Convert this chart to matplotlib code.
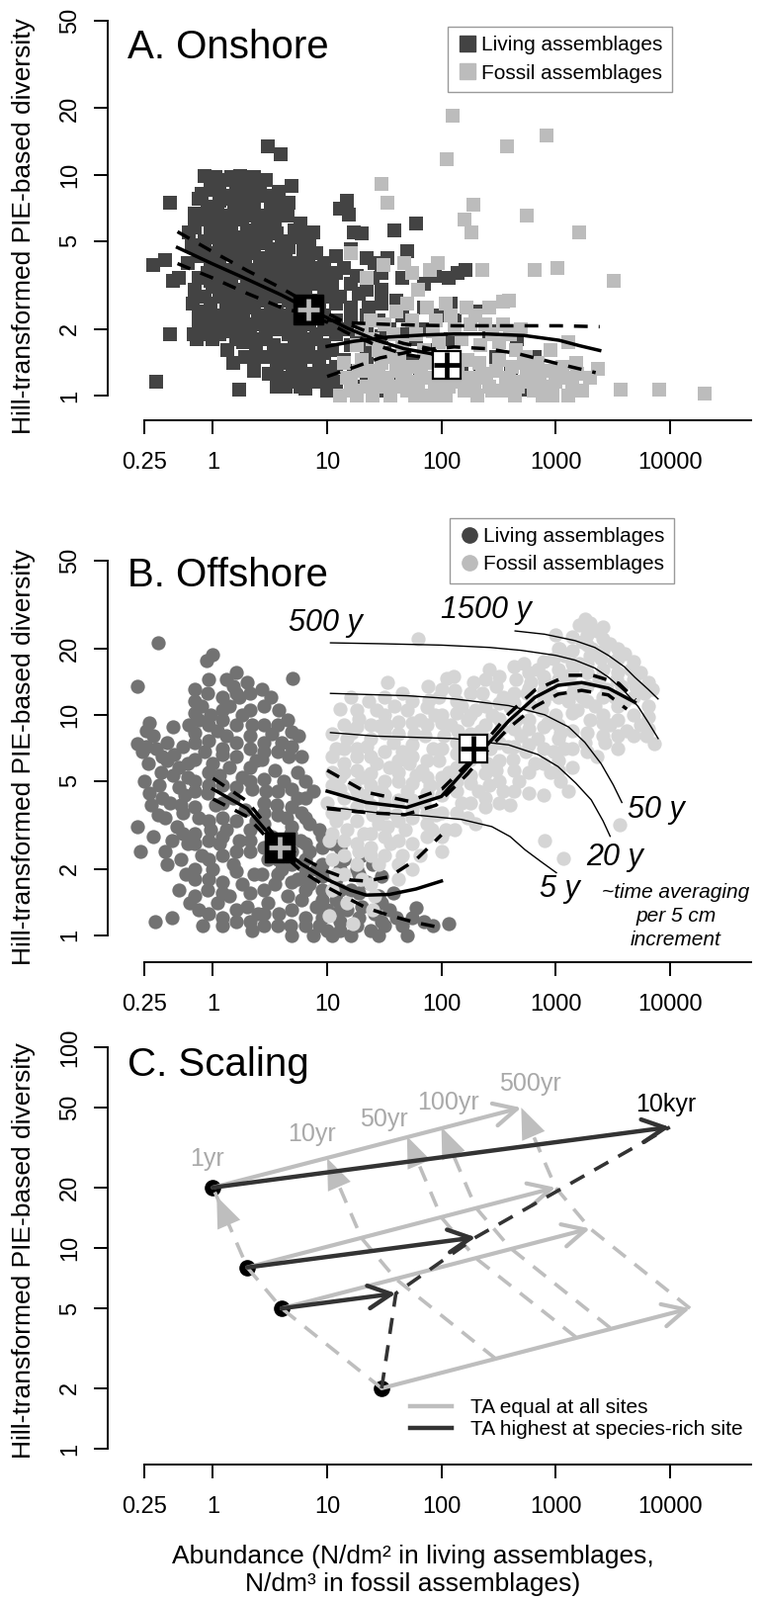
import matplotlib
matplotlib.use('Agg')
import matplotlib.pyplot as plt
from matplotlib.lines import Line2D
from matplotlib.patches import FancyArrowPatch

plt.rcParams['font.family'] = ['Liberation Sans', 'DejaVu Sans']

# ---------------- data ----------------
ticks_x = [0.25, 1, 10, 100, 1000, 10000]
ticks_x_lab = ['0.25', '1', '10', '100', '1000', '10000']
ticks_y_ab = [1, 2, 5, 10, 20, 50]
ticks_y_c = [1, 2, 5, 10, 20, 50, 100]

# panel A, onshore: (abundance, diversity)
a_living = [
    (0.30, 3.9), (0.32, 1.15), (0.38, 4.1), (0.42, 7.5), (0.42, 1.9), (0.45, 3.3), (0.50, 3.4),
    (0.62, 5.5), (0.65, 4.8), (0.69, 6.7), (0.70, 5.8), (0.60, 4.0), (0.68, 1.9), (0.72, 1.8),
    (0.75, 2.2), (0.70, 3.0), (0.66, 2.6),
    (0.85, 9.9), (0.80, 8.2), (0.90, 7.2), (0.95, 6.0), (0.85, 5.0), (0.80, 4.3), (0.90, 3.6),
    (1.00, 3.1), (0.85, 2.8), (0.90, 2.4), (0.95, 2.0), (1.00, 1.8), (0.82, 1.9), (1.05, 9.8),
    (1.00, 8.5), (1.10, 7.0), (1.10, 5.2), (1.05, 4.4), (1.10, 3.8),
    (1.2, 9.5), (1.3, 8.0), (1.4, 6.5), (1.25, 5.8), (1.5, 5.0), (1.3, 4.4), (1.4, 3.7), (1.2, 3.2),
    (1.5, 2.9), (1.3, 2.5), (1.45, 2.1), (1.6, 1.8), (1.35, 1.6), (1.5, 1.4), (1.2, 2.0), (1.6, 8.8),
    (1.55, 7.2), (1.6, 4.0), (1.6, 2.6), (1.7, 1.06),
    (1.75, 9.9), (1.9, 9.4), (2.1, 8.6), (2.3, 7.4), (1.8, 6.3), (2.0, 5.6), (2.2, 4.8), (1.9, 4.1),
    (2.4, 3.7), (2.0, 3.3), (2.2, 2.9), (1.8, 2.6), (2.5, 2.3), (2.1, 1.9), (2.4, 1.6), (1.9, 1.5),
    (2.3, 1.3), (2.6, 9.2), (2.5, 6.0), (2.6, 4.2), (2.5, 2.7),
    (3.0, 13.5), (3.9, 12.4), (2.9, 8.0), (3.2, 7.0), (3.5, 6.2), (2.8, 5.3), (3.3, 4.6), (3.7, 4.0),
    (3.0, 3.5), (3.5, 3.0), (3.2, 2.6), (3.8, 2.2), (2.9, 2.0), (3.4, 1.7), (3.6, 1.4), (3.1, 1.25),
    (3.8, 8.4), (3.6, 1.1), (4.0, 5.0), (4.0, 2.8),
    (4.9, 8.9), (4.5, 6.5), (5.2, 5.6), (4.3, 4.4), (5.5, 4.0), (4.8, 3.5), (5.8, 3.2), (4.5, 3.0),
    (5.0, 2.5), (5.6, 2.2), (4.4, 2.0), (5.2, 1.8), (4.6, 1.6), (5.8, 1.5), (5.0, 1.3), (5.5, 1.15),
    (4.3, 1.1), (6.0, 5.2), (6.2, 4.6), (6.0, 2.7),
    (7.0, 5.0), (8.0, 4.4), (6.8, 4.0), (9.0, 3.6), (7.5, 3.2), (6.5, 2.9), (8.5, 2.6), (9.5, 2.3),
    (7.0, 2.1), (8.0, 1.9), (9.5, 1.7), (6.8, 1.6), (8.5, 1.4), (7.3, 1.25), (9.0, 1.15), (6.5, 1.08),
    (10, 1.05), (10, 1.3), (10, 2.0), (10, 3.0),
    (13, 7.0), (15, 7.6), (15.5, 6.6), (17, 5.5), (20, 5.4), (12, 4.3), (14, 3.8), (18, 3.5),
    (11, 3.2), (13, 2.8), (16, 2.5), (19, 2.9), (12, 2.2), (15, 2.0), (18, 1.8), (11, 1.6),
    (14, 1.45), (17, 1.3), (12, 1.15), (20, 1.1), (16, 1.05),
    (22, 4.2), (26, 4.0), (34, 4.2), (39, 5.6), (50, 4.5), (25, 3.4), (30, 3.0), (40, 2.7),
    (23, 2.5), (28, 2.2), (35, 2.0), (45, 1.9), (24, 1.75), (32, 1.55), (42, 1.45), (27, 1.3),
    (38, 1.2), (48, 1.1), (30, 1.05),
    (60, 6.0), (88, 3.5), (117, 3.4), (140, 3.6), (161, 3.7), (70, 2.5), (95, 2.3), (130, 2.2),
    (60, 1.8), (80, 1.6), (110, 1.5), (150, 1.35), (65, 1.2), (100, 1.1), (55, 1.4),
    (200, 2.4), (260, 1.95), (460, 1.8), (405, 1.34), (585, 1.06), (300, 1.5), (220, 1.25), (650, 1.5),
    # denser core
    (0.75, 7.8), (0.75, 6.3), (0.75, 4.6), (0.75, 3.4), (0.75, 2.4),
    (0.95, 8.8), (0.95, 6.6), (0.95, 5.4), (0.95, 4.0), (0.95, 3.3), (0.95, 2.6), (0.95, 2.2),
    (1.15, 9.0), (1.15, 7.6), (1.15, 6.1), (1.15, 4.8), (1.15, 4.1), (1.15, 3.4), (1.15, 2.8),
    (1.15, 2.3), (1.15, 1.9),
    (1.45, 9.8), (1.45, 7.8), (1.45, 6.0), (1.45, 5.4), (1.45, 4.6), (1.45, 3.4), (1.45, 3.1),
    (1.45, 2.3), (1.45, 1.95),
    (1.85, 8.8), (1.85, 7.6), (1.85, 6.8), (1.85, 5.2), (1.85, 4.5), (1.85, 3.6), (1.85, 3.0),
    (1.85, 2.3), (1.85, 2.0), (1.85, 1.75),
    (2.3, 9.8), (2.3, 8.0), (2.3, 6.5), (2.3, 5.3), (2.3, 4.4), (2.3, 3.5), (2.3, 3.1), (2.3, 2.5),
    (2.3, 2.1), (2.3, 1.8), (2.3, 1.45),
    (2.9, 9.5), (2.9, 6.5), (2.9, 5.8), (2.9, 4.9), (2.9, 4.2), (2.9, 3.8), (2.9, 3.2), (2.9, 2.8),
    (2.9, 2.3), (2.9, 1.8), (2.9, 1.5),
    (3.6, 7.6), (3.6, 6.7), (3.6, 5.4), (3.6, 4.4), (3.6, 3.5), (3.6, 3.2), (3.6, 2.4), (3.6, 2.0),
    (3.6, 1.6), (3.6, 1.25),
    (4.6, 7.5), (4.6, 5.0), (4.6, 4.7), (4.6, 3.9), (4.6, 3.3), (4.6, 2.7), (4.6, 2.3), (4.6, 1.9),
    (4.6, 1.4), (4.6, 1.2),
    (5.8, 6.0), (5.8, 4.0), (5.8, 3.6), (5.8, 3.0), (5.8, 2.5), (5.8, 1.95), (5.8, 1.7), (5.8, 1.3),
    (5.8, 1.1),
    (7.5, 5.5), (7.5, 3.8), (7.5, 3.4), (7.5, 2.7), (7.5, 2.3), (7.5, 1.8), (7.5, 1.5), (7.5, 1.15),
    (9.5, 4.0), (9.5, 3.2), (9.5, 2.8), (9.5, 2.2), (9.5, 1.55), (9.5, 1.25),
    (12, 3.6), (12, 2.6), (12, 1.9), (12, 1.35), (12, 1.05),
    (16, 4.6), (16, 3.2), (16, 2.2), (16, 1.7),
    (22, 3.0), (22, 2.3), (22, 2.0), (22, 1.6), (22, 1.4), (22, 1.15),
    (30, 3.6), (30, 2.6), (30, 1.85), (30, 1.4),
    (45, 3.4), (45, 2.3), (45, 1.6), (45, 1.3),
    (70, 3.2), (70, 2.0), (70, 1.4), (120, 2.6), (120, 1.8), (120, 1.25),
]
a_fossil = [
    (126, 18.5), (112, 11.7), (375, 13.5), (840, 15.0), (30, 9.1), (34, 7.5), (192, 7.3), (158, 6.3),
    (184, 5.5), (560, 6.5), (1600, 5.5), (226, 3.7), (650, 3.7), (1030, 3.8), (3200, 3.3), (16, 4.4),
    (22, 3.4), (31, 3.9), (47, 4.0), (55, 3.6), (93, 4.0), (80, 3.7), (345, 2.65), (390, 2.7),
    (1280, 1.74), (2340, 1.32), (3700, 1.06), (8000, 1.06), (20300, 1.02),
    (20, 2.0), (25, 1.8), (32, 2.1), (40, 2.4), (50, 2.6), (62, 3.0), (75, 2.5), (90, 2.2),
    (110, 2.6), (130, 2.0), (150, 1.8), (180, 2.1), (220, 1.7), (280, 1.9), (350, 2.1), (450, 1.6),
    (550, 1.5), (700, 1.4), (900, 1.6), (1200, 1.2), (1500, 1.4), (60, 1.9), (45, 1.7), (35, 1.5),
    (28, 1.6), (18, 1.7), (70, 1.6), (95, 1.75), (200, 2.3), (260, 2.5),
    (13, 1.0), (15, 1.2), (17, 1.05), (19, 1.3), (22, 1.1), (25, 1.0), (28, 1.25), (32, 1.1),
    (36, 1.0), (40, 1.3), (45, 1.15), (50, 1.05), (56, 1.35), (62, 1.1), (70, 1.0), (78, 1.2),
    (88, 1.1), (98, 1.3), (110, 1.0), (125, 1.15), (140, 1.3), (160, 1.05), (180, 1.2), (205, 1.0),
    (230, 1.25), (260, 1.1), (300, 1.3), (340, 1.05), (390, 1.2), (440, 1.0), (500, 1.15), (560, 1.3),
    (640, 1.05), (720, 1.2), (820, 1.1), (930, 1.0), (1050, 1.25), (1400, 1.1), (1700, 1.05), (2000, 1.2),
    (14, 1.4), (16, 1.15), (18, 1.0), (20, 1.45), (23, 1.3), (26, 1.15), (30, 1.4), (34, 1.2),
    (38, 1.1), (43, 1.45), (48, 1.25), (53, 1.15), (59, 1.0), (66, 1.25), (74, 1.4), (83, 1.0),
    (93, 1.2), (104, 1.45), (117, 1.1), (132, 1.4), (150, 1.2), (170, 1.45), (195, 1.1), (215, 1.4),
    (245, 1.2), (280, 1.05), (320, 1.45), (365, 1.15), (415, 1.35), (470, 1.1), (530, 1.4), (600, 1.2),
    (680, 1.35), (770, 1.0), (870, 1.3), (990, 1.15), (1150, 1.35), (1300, 1.0), (1550, 1.25),
    (24, 2.2), (38, 1.9), (55, 2.2), (85, 1.95), (120, 2.3), (165, 2.5), (240, 2.1), (320, 1.75),
    (400, 1.9), (500, 2.0),
]
a_liv_fit_x = [0.49, 0.98, 2.0, 4.0, 6.9, 10, 15, 27, 47, 80]
a_liv_fit_y = [4.68, 3.96, 3.36, 2.85, 2.46, 2.25, 2.02, 1.78, 1.63, 1.55]
a_liv_hi_y = [5.52, 4.5, 3.68, 3.06, 2.6, 2.36, 2.12, 1.87, 1.72, 1.63]
a_liv_lo_y = [3.96, 3.42, 2.9, 2.5, 2.32, 2.15, 1.92, 1.69, 1.54, 1.47]
a_fos_fit_x = [10, 17, 34, 70, 130, 250, 530, 1070, 1630, 2430]
a_fos_fit_y = [1.67, 1.76, 1.84, 1.88, 1.9, 1.9, 1.87, 1.78, 1.68, 1.6]
a_fos_hi_y = [2.2, 2.13, 2.1, 2.08, 2.07, 2.07, 2.07, 2.07, 2.06, 2.05]
a_fos_lo_x = [10, 17, 29, 60, 130, 250, 460, 1070, 1630, 2240]
a_fos_lo_y = [1.22, 1.34, 1.48, 1.6, 1.66, 1.63, 1.55, 1.39, 1.32, 1.27]
a_means = [(6.9, 2.46), (111, 1.37)]

# panel B, offshore
b_living = [
    (0.22, 13.5), (0.33, 21.3), (0.22, 7.4), (0.26, 8.5), (0.24, 6.8), (0.30, 8.0), (0.22, 3.1),
    (0.23, 2.4), (0.25, 5.0), (0.28, 4.4), (0.31, 1.15), (0.27, 6.0), (0.33, 3.5), (0.30, 2.8), (0.35, 5.5),
    (0.44, 1.2), (0.40, 6.2), (0.45, 5.3), (0.50, 4.7), (0.42, 4.0), (0.55, 3.6), (0.48, 3.1), (0.60, 2.6),
    (0.40, 2.1), (0.52, 2.2), (0.45, 8.8), (0.55, 7.2), (0.60, 6.0), (0.62, 9.0), (0.38, 3.4), (0.58, 1.9),
    (0.50, 1.6), (0.63, 1.4),
    (0.88, 17.7), (1.0, 18.7), (0.70, 13.0), (0.80, 11.0), (0.90, 12.5), (0.75, 9.5), (0.95, 10.0),
    (1.1, 8.5), (0.70, 7.5), (0.85, 6.8), (1.0, 6.0), (1.15, 5.3), (0.70, 5.0), (0.90, 4.4), (1.05, 3.9),
    (0.75, 3.4), (0.95, 3.0), (1.15, 2.6), (0.80, 2.3), (1.0, 2.0), (0.70, 1.8), (0.90, 1.6), (1.1, 1.4),
    (0.82, 1.1), (1.2, 1.2), (0.75, 1.3),
    (1.3, 14.5), (1.5, 13.5), (1.7, 12.0), (2.0, 14.0), (1.4, 11.0), (1.8, 10.0), (2.2, 9.0), (1.3, 8.0),
    (1.6, 7.5), (2.1, 7.0), (2.4, 6.2), (1.4, 5.8), (1.8, 5.2), (2.2, 4.6), (1.5, 4.2), (1.9, 3.7),
    (2.4, 3.3), (1.3, 3.0), (1.7, 2.7), (2.1, 2.4), (1.5, 2.1), (2.3, 1.9), (1.8, 1.7), (1.4, 1.5),
    (2.0, 1.35), (2.5, 1.25), (1.6, 1.15), (2.2, 1.05),
    (2.7, 13.0), (3.2, 12.0), (3.8, 10.5), (4.5, 9.5), (2.8, 9.0), (3.3, 8.2), (4.0, 7.5), (4.6, 6.5),
    (2.7, 6.3), (3.5, 5.6), (4.2, 5.0), (2.9, 4.5), (3.6, 3.9), (4.4, 3.4), (2.8, 3.2), (3.3, 2.8),
    (4.8, 2.9), (3.0, 2.2), (4.0, 2.0), (2.7, 1.9), (3.5, 1.7), (4.5, 1.5), (3.0, 1.4), (3.8, 1.25),
    (4.8, 1.1), (2.8, 1.1), (5.0, 14.6), (4.9, 8.4),
    (5.5, 5.5), (6.5, 5.0), (7.5, 4.5), (5.5, 4.2), (6.0, 3.6), (7.0, 3.2), (8.5, 3.0), (5.8, 2.7),
    (7.0, 2.4), (9.0, 2.5), (6.0, 2.1), (8.0, 2.0), (5.5, 1.8), (7.0, 1.7), (9.0, 1.6), (6.0, 1.45),
    (8.0, 1.35), (10, 1.3), (6.5, 1.2), (8.5, 1.1), (10, 1.05), (7.5, 1.0), (6.0, 6.5), (5.6, 8.0),
    (11, 2.6), (14, 2.2), (18, 2.0), (12, 1.8), (16, 1.6), (22, 1.75), (28, 1.5), (12, 1.45),
    (15, 1.3), (20, 1.35), (26, 1.25), (35, 1.3), (13, 1.15), (18, 1.1), (24, 1.05), (32, 1.1),
    (40, 1.2), (11, 1.0), (16, 1.0), (28, 1.0), (20, 2.3), (30, 1.85), (25, 2.1), (38, 1.55),
    (45, 1.1), (60, 1.33), (55, 1.2), (50, 1.0), (70, 1.15), (117, 1.13), (85, 1.1),
    # denser core
    (0.70, 11.5), (0.70, 10.2), (0.70, 8.3), (0.70, 6.3), (0.70, 4.5), (0.70, 3.8), (0.70, 2.9),
    (0.70, 2.6), (0.70, 2.0), (0.70, 1.5),
    (0.92, 14.5), (0.92, 9.0), (0.92, 7.6), (0.92, 5.5), (0.92, 4.8), (0.92, 3.3), (0.92, 2.7),
    (0.92, 2.2), (0.92, 1.8), (0.92, 1.25),
    (1.2, 12.0), (1.2, 10.5), (1.2, 9.5), (1.2, 7.0), (1.2, 6.6), (1.2, 4.8), (1.2, 4.0), (1.2, 3.4),
    (1.2, 2.8), (1.2, 2.3), (1.2, 1.75), (1.2, 1.55), (1.2, 1.1),
    (1.6, 15.5), (1.6, 12.5), (1.6, 9.0), (1.6, 6.5), (1.6, 4.7), (1.6, 3.3), (1.6, 2.4), (1.6, 1.95),
    (1.6, 1.3),
    (2.1, 12.5), (2.1, 10.5), (2.1, 8.0), (2.1, 5.8), (2.1, 5.0), (2.1, 3.0), (2.1, 2.7), (2.1, 1.55),
    (2.1, 1.15),
    (2.8, 11.0), (2.8, 7.5), (2.8, 6.8), (2.8, 5.1), (2.8, 4.0), (2.8, 3.6), (2.8, 2.5), (2.8, 1.6),
    (2.8, 1.25),
    (3.7, 9.0), (3.7, 6.8), (3.7, 4.5), (3.7, 3.5), (3.7, 2.5), (3.7, 2.2), (3.7, 1.9), (3.7, 1.1),
    (4.9, 7.2), (4.9, 4.6), (4.9, 3.8), (4.9, 3.1), (4.9, 2.4), (4.9, 2.1), (4.9, 1.75), (4.9, 1.3),
    (4.9, 1.0),
    (6.4, 4.2), (6.4, 3.4), (6.4, 2.6), (6.4, 2.2), (6.4, 1.9), (6.4, 1.6), (6.4, 1.1),
    (9, 2.8), (9, 2.1), (9, 1.85), (9, 1.45), (9, 1.2),
    (13, 2.5), (13, 2.0), (13, 1.6), (13, 1.3), (13, 1.05),
    (19, 1.55), (19, 1.2), (19, 1.9), (30, 1.4), (30, 1.15),
    (0.32, 7.0), (0.36, 6.5), (0.34, 4.8), (0.29, 3.9), (0.40, 7.5), (0.46, 6.6), (0.50, 5.8),
    (0.36, 4.2), (0.52, 3.9), (0.44, 2.7), (0.55, 2.9), (0.38, 2.4), (0.60, 5.2), (0.57, 4.3),
    (0.28, 9.2), (0.26, 7.2),
]
b_fossil = [
    (10.5, 1.23), (11, 5.5), (10, 4.0), (12, 3.3), (10.5, 2.7), (13, 10.6), (12, 7.0), (14, 6.0),
    (11, 8.2), (13, 4.6), (15, 3.0), (14, 2.3), (12, 1.9), (16.7, 1.13), (15, 1.4), (11, 1.6),
    (13, 5.2), (15, 7.8),
    (16.6, 8.3), (19, 9.6), (18, 6.5), (20, 5.2), (22, 4.3), (25, 3.5), (18, 3.8), (21, 2.9),
    (24, 2.5), (28, 2.1), (20, 1.8), (26, 1.5), (29, 8.95), (22, 7.2), (27, 6.0), (17, 4.8),
    (19, 2.4), (30, 4.5), (28, 3.2), (23, 11.5), (27, 10.5), (16, 12.0), (25, 1.3),
    (33.8, 14), (39, 11), (33, 9.0), (38, 7.5), (45, 6.8), (35, 5.8), (42, 5.0), (50, 4.5),
    (32, 4.0), (40, 3.5), (48, 3.0), (36, 2.6), (45, 2.3), (55, 2.0), (58, 8.2), (52, 6.0),
    (34, 3.1), (55, 3.7), (42, 1.8), (60, 5.3), (50, 10.5), (45, 12.5),
    (63, 22.1), (76, 13.4), (78, 11.6), (112, 14.7), (65, 9.5), (72, 8.0), (85, 7.0), (95, 6.2),
    (68, 5.6), (80, 4.8), (100, 4.3), (70, 4.0), (90, 3.5), (110, 3.0), (75, 2.8), (100, 2.4),
    (65, 2.3), (120, 9.0), (105, 8.0), (115, 5.5), (88, 10.0), (95, 12.0), (82, 3.0),
    (130, 12.9), (128, 15.0), (150, 11.0), (170, 9.5), (140, 8.5), (200, 10.5), (160, 6.2), (220, 8.5),
    (180, 5.3), (135, 5.0), (210, 4.5), (150, 4.0), (240, 3.8), (170, 3.4), (130, 3.0), (250, 6.0),
    (230, 12.5), (190, 14.0), (145, 7.0), (200, 3.2),
    (263, 16), (300, 13.5), (350, 12.0), (400, 10.8), (280, 10.0), (450, 9.5), (330, 8.6), (500, 8.0),
    (380, 7.2), (270, 7.0), (420, 6.3), (550, 6.8), (300, 5.6), (480, 5.0), (350, 4.5), (400, 3.9),
    (527, 17), (450, 14.5), (560, 12.5), (600, 11.0), (320, 4.0), (580, 4.4), (260, 4.8),
    (700, 16), (800, 14.0), (900, 12.5), (1000, 23), (1070, 20), (1200, 18.5), (1400, 17), (750, 10.5),
    (850, 9.2), (1000, 10.0), (1100, 8.3), (1300, 11.5), (700, 7.8), (950, 6.8), (1200, 7.0), (800, 2.7),
    (1160, 2.23), (900, 5.5), (1100, 5.0), (1300, 4.5), (650, 6.0), (1450, 13.5), (1250, 15.0),
    (950, 18.0), (600, 14.0),
    (1800, 27.2), (1600, 25.5), (2000, 26.0), (2300, 24.0), (2600, 22.0), (3000, 21.0), (1700, 21.5),
    (2100, 20.0), (2500, 18.0), (3200, 17.5), (1600, 17.0), (1900, 15.5), (2400, 14.5), (2800, 13.0),
    (3300, 12.0), (1700, 12.0), (2200, 11.0), (2600, 10.0), (3000, 9.0), (2000, 9.5), (1550, 10.5),
    (2700, 7.5), (3500, 8.0), (2300, 6.5), (3640, 3.17), (1800, 7.5), (3400, 14.5), (2000, 18.5),
    (4000, 19.0), (4500, 16.0), (5000, 13.5), (5500, 15.5), (6000, 12.5), (6500, 11.0), (7000, 13.0),
    (7250, 7.4), (4000, 11.5), (4800, 10.0), (5500, 9.0), (6200, 8.0), (4200, 8.5), (3800, 13.5),
    # denser core
    (11, 6.5), (11, 4.8), (11, 3.6), (11, 2.9), (11, 2.2),
    (14, 9.0), (14, 7.0), (14, 5.5), (14, 4.2), (14, 3.6), (14, 2.7), (14, 1.9),
    (18, 10.5), (18, 8.8), (18, 7.0), (18, 5.6), (18, 4.5), (18, 3.3), (18, 2.6), (18, 2.1),
    (24, 9.0), (24, 7.8), (24, 6.5), (24, 5.4), (24, 4.8), (24, 3.9), (24, 2.9), (24, 2.3), (24, 1.7),
    (32, 12.0), (32, 10.0), (32, 8.3), (32, 6.8), (32, 5.0), (32, 4.3), (32, 3.6), (32, 2.8), (32, 2.3),
    (42, 9.3), (42, 8.2), (42, 6.2), (42, 5.5), (42, 4.1), (42, 3.3), (42, 2.7), (42, 2.1),
    (56, 11.5), (56, 9.2), (56, 7.3), (56, 6.5), (56, 4.9), (56, 4.1), (56, 3.4), (56, 2.6),
    (75, 10.8), (75, 9.0), (75, 6.2), (75, 5.2), (75, 4.4), (75, 3.6), (75, 3.2),
    (100, 13.0), (100, 10.0), (100, 9.2), (100, 7.0), (100, 5.2), (100, 4.8), (100, 3.6), (100, 2.8),
    (135, 11.5), (135, 10.2), (135, 7.5), (135, 6.7), (135, 5.8), (135, 4.5), (135, 3.6),
    (180, 12.5), (180, 10.0), (180, 8.2), (180, 7.4), (180, 6.3), (180, 4.9), (180, 4.0),
    (240, 14.5), (240, 11.0), (240, 9.0), (240, 7.8), (240, 5.4), (240, 4.2),
    (320, 15.0), (320, 11.3), (320, 9.6), (320, 7.5), (320, 6.2), (320, 5.0),
    (430, 16.5), (430, 12.5), (430, 11.3), (430, 8.6), (430, 7.2), (430, 5.6), (430, 4.5),
    (580, 15.5), (580, 13.2), (580, 9.5), (580, 8.6), (580, 7.3), (580, 5.5),
    (780, 17.5), (780, 15.0), (780, 12.8), (780, 11.5), (780, 8.8), (780, 7.0), (780, 6.0), (780, 4.3),
    (1050, 20), (1050, 16), (1050, 14.5), (1050, 12), (1050, 9.0), (1050, 7.8), (1050, 6.2), (1050, 5.6),
    (1400, 22.5), (1400, 19.5), (1400, 15.5), (1400, 12.5), (1400, 10.2), (1400, 8.5), (1400, 7.0),
    (1400, 5.8),
    (1900, 23), (1900, 20.8), (1900, 17.0), (1900, 13.5), (1900, 11.5), (1900, 8.3), (1900, 6.8),
    (2600, 25), (2600, 19.5), (2600, 16.0), (2600, 12.0), (2600, 9.2), (2600, 8.0),
    (3500, 20), (3500, 18.0), (3500, 15.5), (3500, 11.0), (3500, 9.5), (3500, 7.0),
    (4800, 17.5), (4800, 14.5), (4800, 12.0), (4800, 8.0),
    (6500, 14.0), (6500, 9.8), (6500, 8.6),
]
b_liv_fit_x = [1, 2, 3.9, 6, 10, 16, 22, 35, 60, 100]
b_liv_fit_y = [4.6, 3.75, 2.5, 2.1, 1.79, 1.6, 1.52, 1.53, 1.62, 1.76]
b_liv_hi_y = [5.15, 4.05, 2.62, 2.25, 1.95, 1.78, 1.76, 1.84, 2.2, 2.85]
b_liv_lo_y = [4.15, 3.45, 2.38, 1.95, 1.65, 1.45, 1.33, 1.23, 1.14, 1.08]
b_fos_fit_x = [10, 22, 50, 100, 170, 240, 390, 660, 1050, 1690, 2890, 4930]
b_fos_fit_y = [4.5, 4.0, 3.8, 4.26, 5.8, 7.1, 9.4, 12.0, 13.6, 14.0, 13.2, 11.4]
b_fos_hi_x = [10, 22, 52, 101, 170, 240, 388, 660, 1290, 2110, 3560, 5000]
b_fos_hi_y = [5.6, 4.45, 4.05, 4.6, 6.0, 7.5, 10.1, 12.95, 15.1, 15.1, 13.9, 11.7]
b_fos_lo_x = [10, 22, 48, 90, 170, 240, 388, 660, 1050, 1690, 2890, 4200]
b_fos_lo_y = [3.75, 3.6, 3.52, 3.89, 5.4, 6.7, 8.7, 10.9, 12.4, 12.9, 12.3, 10.6]
b_means = [(3.85, 2.5), (189, 7.03)]

# time-averaging isolines (per 5 cm increment)
ta_1500_x = [442, 800, 1478, 2200, 2890, 4000, 4930, 6500, 7880]
ta_1500_y = [24.0, 23.2, 21.7, 20.2, 18.6, 16.5, 14.8, 13.0, 11.8]
ta_500_x = [10.7, 30, 100, 266, 500, 1000, 1478, 2200, 2900, 4000, 5270, 6500, 7900]
ta_500_y = [21.2, 21.0, 20.7, 20.2, 19.6, 18.6, 17.7, 16.3, 14.8, 12.8, 10.9, 9.2, 7.8]
ta_50_x = [10.7, 50, 130, 390, 800, 1300, 1800, 2500, 3200, 3800]
ta_50_y = [12.5, 12.2, 11.8, 11.0, 10.0, 8.8, 7.5, 6.0, 4.8, 4.0]
ta_20_x = [10.7, 26.5, 128, 388, 700, 1050, 1500, 2050, 2600, 3000]
ta_20_y = [8.3, 8.0, 7.8, 7.3, 6.6, 5.82, 4.9, 4.11, 3.3, 2.81]
ta_5_x = [10, 26.5, 63, 150, 276, 400, 540, 750, 1015]
ta_5_y = [3.82, 3.6, 3.5, 3.35, 3.11, 2.8, 2.44, 2.15, 1.92]

# panel C, scaling scheme: one site per row, values at 1, 10, 50, 100, 500 yr
c_time_labels = ['1yr', '10yr', '50yr', '100yr', '500yr']
c_x1 = [1, 10, 50, 100, 500]
c_y1 = [20, 28, 36, 40, 50]
c_x2 = [2, 20, 100, 200, 1000]
c_y2 = [8, 11.2, 14.2, 15.9, 20]
c_x3 = [4, 40, 200, 400, 2000]
c_y3 = [5, 7, 8.9, 10, 12.5]
c_x4 = [30, 300, 1500, 3000, 15000]
c_y4 = [2, 2.8, 3.6, 4.0, 5]
c_dark_x = [30, 40, 200, 10000]
c_dark_y = [2, 5.94, 11.3, 40]

# ---------------- styles ----------------
W, H = 770, 1618
liv_a, fos_a = '#434343', '#bcbcbc'
liv_b, fos_b = '#727272', '#d5d5d5'
lgray, dgray = '#bebebe', '#333333'
dash = (0, (4, 3.2))

fig = plt.figure(figsize=(W / 100, H / 100), dpi=100)


def frac(l, t, r, b):
    return [l / W, 1 - b / H, (r - l) / W, (b - t) / H]


def ftxt(x, y, s, **kw):
    return fig.text(x / W, 1 - y / H, s, **kw)


def panel(top, bottom, y1, dec, yticks):
    ax = fig.add_axes(frac(109, top, 760, bottom))
    ax.set_xscale('log')
    ax.set_yscale('log')
    ax.set_xlim(10 ** ((109 - 215.4) / 115.6), 10 ** ((760 - 215.4) / 115.6))
    ax.set_ylim(10 ** ((y1 - bottom) / dec), 10 ** ((y1 - top) / dec))
    for s in ['top', 'right']:
        ax.spines[s].set_visible(False)
    ax.spines['left'].set_bounds(1, yticks[-1])
    ax.spines['bottom'].set_bounds(0.25, ax.get_xlim()[1])
    for s in ['left', 'bottom']:
        ax.spines[s].set_linewidth(1.4)
    ax.set_xticks(ticks_x)
    ax.set_xticklabels(ticks_x_lab)
    ax.set_yticks(yticks)
    ax.set_yticklabels([str(v) for v in yticks])
    ax.minorticks_off()
    ax.tick_params(length=10, width=1.4, labelsize=17)
    ax.tick_params(axis='x', pad=13)
    ax.tick_params(axis='y', pad=9.5, labelrotation=90)
    for lab in ax.get_yticklabels():
        lab.set_va('center')
    ax.patch.set_alpha(0)
    return ax


def scat(ax, pts, **kw):
    ax.scatter([p[0] for p in pts], [p[1] for p in pts], linewidths=0, zorder=2, **kw)


def means(ax, pts):
    ax.plot(*pts[0], marker='s', ms=22, mfc='black', mec='black', zorder=6)
    ax.plot(*pts[0], marker='+', ms=16, mew=3.4, color='#b8b8b8', zorder=7)
    ax.plot(*pts[1], marker='s', ms=20.5, mfc='white', mec='black', mew=1.6, zorder=6)
    ax.plot(*pts[1], marker='+', ms=19, mew=3.4, color='black', zorder=7)


# ---------------- A ----------------
axA = panel(10, 425, 400, 223.3, ticks_y_ab)
scat(axA, a_living, s=94, marker='s', c=liv_a)
scat(axA, a_fossil, s=94, marker='s', c=fos_a)
axA.plot(a_liv_fit_x, a_liv_fit_y, color='black', lw=2.5, zorder=4)
axA.plot(a_liv_fit_x, a_liv_hi_y, color='black', lw=2.5, ls=dash, zorder=4)
axA.plot(a_liv_fit_x, a_liv_lo_y, color='black', lw=2.5, ls=dash, zorder=4)
axA.plot(a_fos_fit_x, a_fos_fit_y, color='black', lw=2.5, zorder=4)
axA.plot(a_fos_fit_x, a_fos_hi_y, color='black', lw=2.5, ls=dash, zorder=4)
axA.plot(a_fos_lo_x, a_fos_lo_y, color='black', lw=2.5, ls=dash, zorder=4)
means(axA, a_means)

# ---------------- B ----------------
axB = panel(515, 973, 945.7, 222.9, ticks_y_ab)
scat(axB, b_living, s=106, marker='o', c=liv_b)
scat(axB, b_fossil, s=106, marker='o', c=fos_b)
for xs, ys in [(ta_1500_x, ta_1500_y), (ta_500_x, ta_500_y), (ta_50_x, ta_50_y),
               (ta_20_x, ta_20_y), (ta_5_x, ta_5_y)]:
    axB.plot(xs, ys, color='black', lw=1.0, zorder=4)
axB.plot(b_liv_fit_x, b_liv_fit_y, color='black', lw=2.5, zorder=4)
axB.plot(b_liv_fit_x, b_liv_hi_y, color='black', lw=2.5, ls=dash, zorder=4)
axB.plot(b_liv_fit_x, b_liv_lo_y, color='black', lw=2.5, ls=dash, zorder=4)
axB.plot(b_fos_fit_x, b_fos_fit_y, color='black', lw=2.5, zorder=4)
axB.plot(b_fos_hi_x, b_fos_hi_y, color='black', lw=2.5, ls=dash, zorder=4)
axB.plot(b_fos_lo_x, b_fos_lo_y, color='black', lw=2.5, ls=dash, zorder=4)
means(axB, b_means)

# ---------------- C ----------------
axC = panel(1045, 1481, 1465, 203, ticks_y_c)
sites = [(c_x1, c_y1), (c_x2, c_y2), (c_x3, c_y3), (c_x4, c_y4)]
axC.scatter([s[0][0] for s in sites], [s[1][0] for s in sites], s=120, c='black', zorder=2)
open_head = '->,head_length=1.1,head_width=0.55'
for xs, ys in sites:
    axC.add_patch(FancyArrowPatch((xs[0], ys[0]), (xs[-1], ys[-1]), arrowstyle=open_head,
                                  mutation_scale=15, lw=3.0, color=lgray, shrinkA=0, shrinkB=0,
                                  zorder=3))
for i in range(len(c_time_labels)):
    px = [c_x4[i], c_x3[i], c_x2[i], c_x1[i]]
    py = [c_y4[i], c_y3[i], c_y2[i], c_y1[i]]
    axC.plot(px, py, color=lgray, lw=2.6, ls=(0, (4.5, 3.2)), zorder=3)
    axC.add_patch(FancyArrowPatch((px[2], py[2]), (px[3], py[3]),
                                  arrowstyle='-|>,head_length=1.5,head_width=0.6',
                                  mutation_scale=15, lw=0, fc=lgray, ec='none',
                                  shrinkA=0, shrinkB=7 if i == 0 else 0, zorder=3))
axC.plot(c_dark_x, c_dark_y, color=dgray, lw=2.6, ls=(0, (4.5, 3.2)), zorder=4)
for (xs, ys), j in zip(sites[:3], range(3)):
    axC.add_patch(FancyArrowPatch((xs[0], ys[0]), (c_dark_x[3 - j], c_dark_y[3 - j]),
                                  arrowstyle=open_head, mutation_scale=15, lw=3.2, color=dgray,
                                  shrinkA=0, shrinkB=0, zorder=5))

# ---------------- text ----------------
for t, y in [('A. Onshore', 59), ('B. Offshore', 593), ('C. Scaling', 1088)]:
    ftxt(129, y, t, fontsize=29, va='baseline', ha='left')
for yc in [228.6, 765.5, 1265]:
    ftxt(24.5, yc, 'Hill-transformed PIE-based diversity', fontsize=19, rotation=90,
         ha='center', va='center')
ftxt(418, 1574, 'Abundance (N/dm\u00b2 in living assemblages,', fontsize=19, ha='center', va='center')
ftxt(418, 1602, 'N/dm\u00b3 in fossil assemblages)', fontsize=19, ha='center', va='center')

for s, x, y in [('500 y', 292, 638), ('1500 y', 446, 625), ('50 y', 635, 827),
                ('20 y', 593, 875), ('5 y', 546, 907.5)]:
    ftxt(x, y, s, fontsize=22, style='italic', va='baseline', ha='left')
for s, y in [('~time averaging', 907.5), ('per 5 cm', 932.5), ('increment', 955.7)]:
    ftxt(684, y, s, fontsize=15, style='italic', va='baseline', ha='center')

for s, x, y in zip(c_time_labels, [192, 291, 364, 422, 505], [1179, 1154, 1139, 1122, 1103]):
    ftxt(x, y, s, fontsize=18, color='#a9a9a9', va='baseline', ha='left')
ftxt(643.5, 1124, '10kyr', fontsize=18, color='black', va='baseline', ha='left')

# ---------------- legends ----------------
leg_kw = dict(loc='upper left', borderaxespad=0, fontsize=15, frameon=True, fancybox=False,
              edgecolor='#9a9a9a', framealpha=1, borderpad=0.45, handlelength=1.0,
              handletextpad=0.2, labelspacing=0.45)
labs = ['Living assemblages', 'Fossil assemblages']
hA = [Line2D([], [], ls='none', marker='s', ms=11, color=c) for c in [liv_a, fos_a]]
lA = fig.legend(hA, labs, bbox_to_anchor=(453 / W, 1 - 27 / H), **leg_kw)
lA.get_frame().set_linewidth(1.0)
hB = [Line2D([], [], ls='none', marker='o', ms=11, color=c) for c in [liv_a, fos_a]]
lB = fig.legend(hB, labs, bbox_to_anchor=(455 / W, 1 - 523.6 / H), **leg_kw)
lB.get_frame().set_linewidth(1.0)
hC = [Line2D([], [], color=lgray, lw=3.2), Line2D([], [], color=dgray, lw=3.2)]
fig.legend(hC, ['TA equal at all sites', 'TA highest at species-rich site'], loc='upper left',
           bbox_to_anchor=(415 / W, 1 - 1414 / H), borderaxespad=0, borderpad=0, frameon=False,
           fontsize=15, handlelength=2.0, handletextpad=0.95, labelspacing=0.15)

fig.savefig('out.png', dpi=100)
